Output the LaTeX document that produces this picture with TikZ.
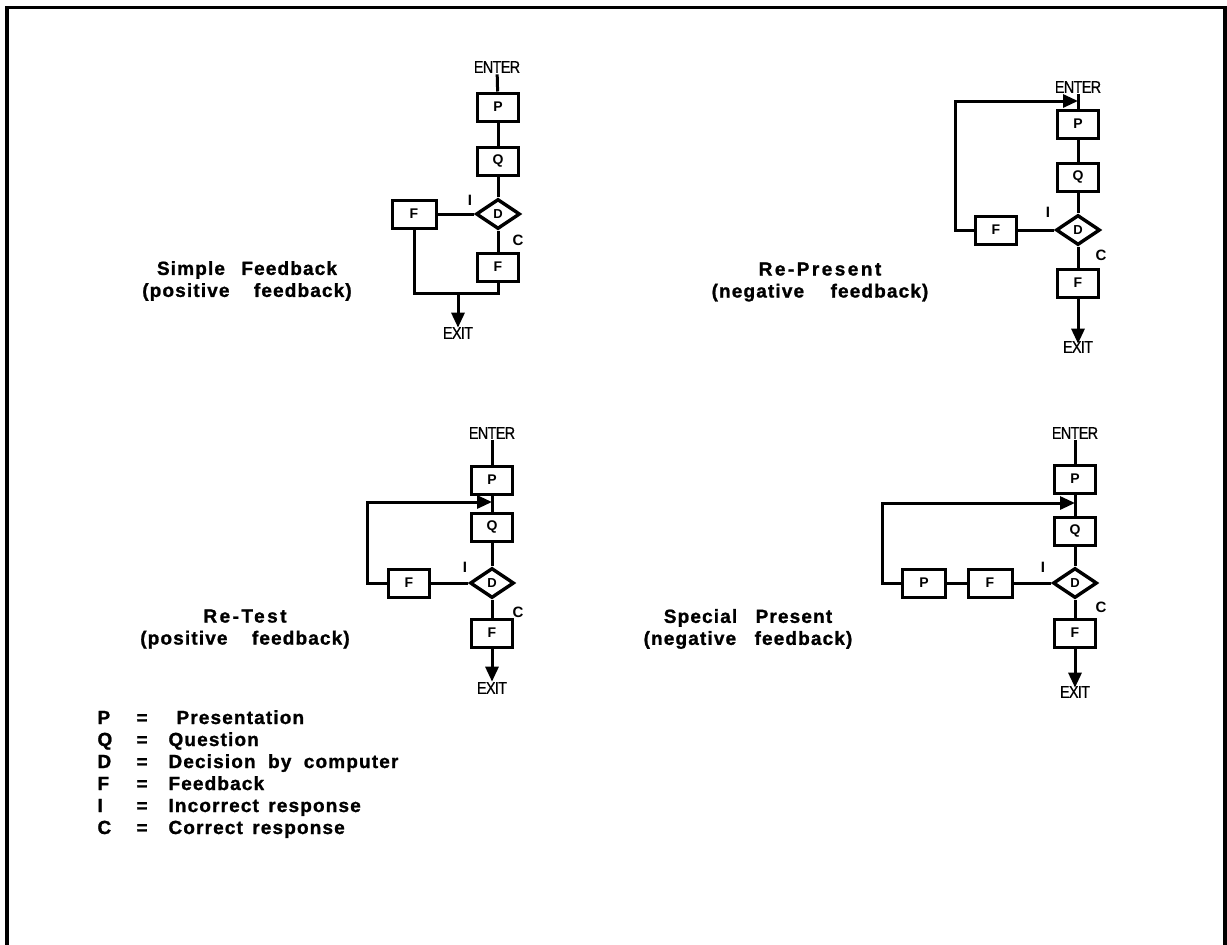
\documentclass[tikz,border=0pt]{standalone}
\usepackage{fontspec}
\setmainfont{Liberation Sans}
\newfontfamily\lblfont[LetterSpace=6,BoldFeatures={FakeBold=1.2}]{Liberation Sans}
\newfontfamily\widefont[LetterSpace=13,BoldFeatures={FakeBold=1.2}]{Liberation Sans}
\newfontfamily\narrowfont[FakeStretch=0.85,LetterSpace=-4,FakeBold=0.5]{Liberation Sans}
\usetikzlibrary{arrows.meta,shapes.geometric}
\begin{document}
\begin{tikzpicture}[x=1pt,y=-1pt,line width=3pt,
  box/.style={draw,line width=3pt,minimum width=41pt,minimum height=28pt,inner sep=0pt,font=\bfseries\fontsize{14}{14}\selectfont},
  dec/.style={draw,diamond,line width=3.4pt,minimum width=44pt,minimum height=30pt,inner sep=0pt,font=\bfseries\fontsize{13}{13}\selectfont},
  term/.style={font=\narrowfont\fontsize{17}{17}\selectfont,inner sep=0pt},
  lbl/.style={font=\lblfont\bfseries\fontsize{19}{22}\selectfont,align=center,inner sep=0pt},
  tag/.style={font=\bfseries\fontsize{15}{15}\selectfont,inner sep=0pt},
  leg/.style={font=\lblfont\bfseries\fontsize{19}{19}\selectfont,inner sep=0pt,anchor=base west},
  arr/.style={-{Triangle[length=15pt,width=13pt]}}
]
\useasboundingbox (0,0) rectangle (1227,945);
% frame
\draw[line width=3.5pt] (7,945) -- (7,7.5) -- (1225,7.5) -- (1225,945);

% ---------- Simple Feedback ----------
\node[term] (e1) at (497,67) {ENTER};
\node[box] (p1) at (498,107) {P};
\node[box] (q1) at (498,161) {Q};
\node[dec] (d1) at (498,214) {D};
\node[box,minimum width=44pt] (fi1) at (414,214) {F};
\node[box] (fc1) at (498,267) {F};
\coordinate (j1) at (458,293);
\node[term] (x1) at (458,333) {EXIT};
\node[tag] (i1) at (470,200) {I};
\node[tag] (c1) at (518,240) {C};
\draw (e1) -- (p1);
\draw (p1) -- (q1);
\draw (q1) -- (d1);
\draw (d1) -- (fc1);
\draw (d1.west) -- (fi1.east);
\draw (fi1.south) |- (j1) -| (fc1.south);
\draw[arr] (j1) -- ([yshift=-2pt]x1.north);
\node[lbl] (t1) at (247,281) {Simple\hspace{10pt} Feedback\\(positive\hspace{18pt} feedback)};

% ---------- Re-Present ----------
\node[term] (e2) at (1078,87) {ENTER};
\node[box] (p2) at (1078,124) {P};
\node[box] (q2) at (1078,177) {Q};
\node[dec] (d2) at (1078,230) {D};
\node[box] (fi2) at (996,230) {F};
\node[box] (fc2) at (1078,283) {F};
\node[term] (x2) at (1078,347) {EXIT};
\node[tag] (i2) at (1048,212) {I};
\node[tag] (c2) at (1101,255) {C};
\coordinate (a2) at (1078,101);
\coordinate (l2) at (955,101);
\draw (e2) -- (p2);
\draw (p2) -- (q2);
\draw (q2) -- (d2);
\draw (d2) -- (fc2);
\draw (d2.west) -- (fi2.east);
\draw[arr] (fi2.west) -| (l2) -- (a2);
\draw[arr] (fc2.south) -- ([yshift=-4pt]x2.north);
\node[lbl] (t2) at (820,282) {{\widefont Re-Present}\\(negative\hspace{20pt} feedback)};

% ---------- Re-Test ----------
\node[term] (e3) at (492,433) {ENTER};
\node[box] (p3) at (492,480) {P};
\node[box] (q3) at (492,527) {Q};
\node[dec] (d3) at (492,583) {D};
\node[box] (fi3) at (409,583) {F};
\node[box] (fc3) at (492,633) {F};
\node[term] (x3) at (492,688) {EXIT};
\node[tag] (i3) at (465,567) {I};
\node[tag] (c3) at (518,612) {C};
\coordinate (a3) at (492,502);
\coordinate (l3) at (367,502);
\draw (e3) -- (p3);
\draw (p3) -- (q3);
\draw (q3) -- (d3);
\draw (d3) -- (fc3);
\draw (d3.west) -- (fi3.east);
\draw[arr] (fi3.west) -| (l3) -- (a3);
\draw[arr] (fc3.south) -- ([yshift=-1pt]x3.north);
\node[lbl] (t3) at (245,629) {{\widefont Re-Test}\\(positive\hspace{18pt} feedback)};

% ---------- Special Present ----------
\node[term] (e4) at (1075,433) {ENTER};
\node[box] (p4) at (1075,479) {P};
\node[box] (q4) at (1075,531) {Q};
\node[dec] (d4) at (1075,583) {D};
\node[box,minimum width=44pt] (fi4) at (990,583) {F};
\node[box,minimum width=43pt] (pi4) at (924,583) {P};
\node[box] (fc4) at (1075,633) {F};
\node[term] (x4) at (1075,692) {EXIT};
\node[tag] (i4) at (1043,567) {I};
\node[tag] (c4) at (1101,607) {C};
\coordinate (a4) at (1075,503);
\coordinate (l4) at (882,503);
\draw (e4) -- (p4);
\draw (p4) -- (q4);
\draw (q4) -- (d4);
\draw (d4) -- (fc4);
\draw (d4.west) -- (fi4.east);
\draw (fi4.west) -- (pi4.east);
\draw[arr] (pi4.west) -| (l4) -- (a4);
\draw[arr] (fc4.south) -- ([yshift=-3pt]x4.north);
\node[lbl] (t4) at (748,629) {Special\hspace{12pt} Present\\(negative\hspace{12pt} feedback)};

% ---------- Legend ----------
\node[leg] (kp) at (96,724) {P};
\node[leg] (kq) at (96,746) {Q};
\node[leg] (kd) at (96,768) {D};
\node[leg] (kf) at (96,790) {F};
\node[leg] (ki) at (96,812) {I};
\node[leg] (kc) at (96,834) {C};
\node[leg] (ep) at (135,724) {=};
\node[leg] (eq) at (135,746) {=};
\node[leg] (ed) at (135,768) {=};
\node[leg] (ef) at (135,790) {=};
\node[leg] (ei) at (135,812) {=};
\node[leg] (ec) at (135,834) {=};
\node[leg] (vp) at (175,724) {Presentation};
\node[leg] (vq) at (167,746) {Question};
\node[leg] (vd) at (167,768) {Decision\hspace{6pt} by\hspace{6pt} computer};
\node[leg] (vf) at (167,790) {Feedback};
\node[leg] (vi) at (167,812) {Incorrect\hspace{3pt} response};
\node[leg] (vc) at (167,834) {Correct\hspace{3pt} response};
\end{tikzpicture}
\end{document}
